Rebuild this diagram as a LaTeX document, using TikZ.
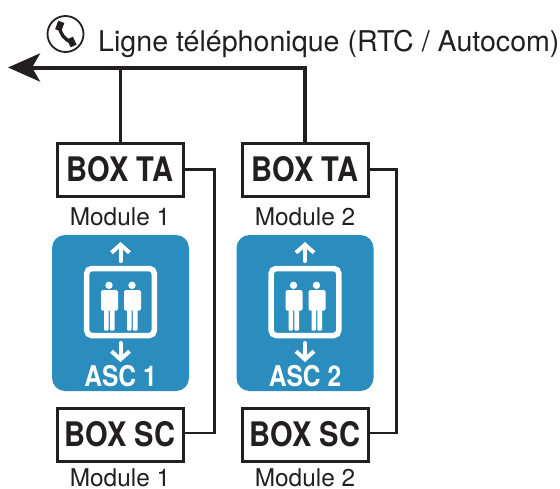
\documentclass[tikz,border=0pt]{standalone}
\usepackage{fontspec}
\setmainfont{TeX Gyre Heros}
\newfontfamily\boxfont[FakeStretch=0.86]{TeX Gyre Heros Bold}
\usetikzlibrary{arrows.meta}
\definecolor{ascblue}{HTML}{2B8CBE}
\definecolor{ink}{HTML}{231F20}
\tikzset{
  x=1pt,y=-1pt,
  boxnode/.style={draw=ink,line width=3pt,fill=white,minimum width=126pt,minimum height=53pt,inner sep=0pt,font=\boxfont\fontsize{33.8}{34}\selectfont,text=ink},
  modlabel/.style={font=\fontsize{24.4}{25}\selectfont,text=ink,inner sep=0pt},
  ascpanel/.style={fill=ascblue,rounded corners=13pt,minimum width=137pt,minimum height=156pt,inner sep=0pt},
  asclabel/.style={font=\boxfont\fontsize{28.6}{29}\selectfont,text=white,inner sep=0pt},
  trunk/.style={draw=ink,line width=3.4pt},
  bus/.style={draw=ink,line width=4pt},
  link/.style={draw=ink,line width=2.2pt},
  wh/.style={draw=white,line width=4pt},
  warrow/.style={draw=white,line width=4pt,line cap=round,-{Straight Barb[length=8pt,width=18pt,line width=4pt]}},
}
\newcommand{\liftpeople}[1]{%
  \begin{scope}[shift={(#1,0)}]
    \fill[white] (-11.5,285.3) circle (3.7);
    \fill[white,rounded corners=1.5pt] (-19.5,290) rectangle (-2.5,310.5);
    \fill[white,rounded corners=1pt] (-16.5,305) rectangle (-11.8,330.5);
    \fill[white,rounded corners=1pt] (-10.6,305) rectangle (-5.8,330.5);
    \fill[white] (11.5,285.3) circle (3.7);
    \fill[white,rounded corners=1.5pt] (3.5,290) rectangle (20.5,310.5);
    \fill[white,rounded corners=1pt] (6.5,305) rectangle (11.2,330.5);
    \fill[white,rounded corners=1pt] (12.4,305) rectangle (17.2,330.5);
    \draw[wh,line width=5.5pt,rounded corners=5pt] (-33.8,268.5) rectangle (33.8,335.5);
    \coordinate (upa) at (0,261);
    \coordinate (upb) at (0,242);
    \coordinate (dna) at (0,343);
    \coordinate (dnb) at (0,362);
    \draw[warrow] (upa) -- (upb);
    \draw[warrow] (dna) -- (dnb);
  \end{scope}}
\begin{document}
\begin{tikzpicture}
\useasboundingbox (0,0) rectangle (560,488);
% phone
\node[circle,draw=ink,line width=1.8pt,minimum size=36pt,inner sep=0pt] (phone) at (65.5,34) {};
\begin{scope}[shift={(phone.center)}]
  \draw[ink,line width=3.4pt] (-6,-8) .. controls (-5.5,0) and (-1,6) .. (7,8.5);
  \fill[ink,rotate around={-20:(-6,-8)}] (-9,-12.5) rectangle (-2.5,-3.5);
  \fill[ink,rotate around={-65:(6,8)}] (1.8,4.5) rectangle (10.5,11);
\end{scope}
\node[anchor=base west,inner sep=0pt,font=\fontsize{28.6}{29}\selectfont,text=ink] (title) at (98,51) {Ligne téléphonique (RTC / Autocom)};
% boxes
\node[boxnode] (ta1) at (120,169.5) {BOX TA};
\node[boxnode] (ta2) at (305,169.5) {BOX TA};
\node[boxnode] (sc1) at (120,434.5) {BOX SC};
\node[boxnode] (sc2) at (305,434.5) {BOX SC};
\node[modlabel] (m1) at (120,216.5) {Module 1};
\node[modlabel] (m2) at (305,216.5) {Module 2};
\node[modlabel] (m3) at (120,477.5) {Module 1};
\node[modlabel] (m4) at (305,477.5) {Module 2};
% panels
\node[ascpanel] (p1) at (120.5,313) {};
\node[ascpanel] (p2) at (305,313) {};
\liftpeople{120.5}
\liftpeople{305}
\node[asclabel] (a1) at (120.5,376) {ASC 1};
\node[asclabel] (a2) at (305,376) {ASC 2};
% connectors
\coordinate (j1) at (120.5,67.5);
\coordinate (j2) at (305,67.5);
\coordinate (tip) at (8,67.5);
\draw[trunk] (ta2.north) -- (j2);
\draw[trunk] (ta1.north -| j1) -- (j1);
\draw[bus,-{Stealth[length=32pt,width=28pt,inset=8pt]}] ([xshift=2pt]j2) -- (tip);
\coordinate (b1) at (214.5,300);
\coordinate (b2) at (396.5,300);
\draw[link] (ta1.east) -| (b1) |- ([yshift=1.5pt]sc1.east);
\draw[link] (ta2.east) -| (b2) |- ([yshift=1.5pt]sc2.east);
\end{tikzpicture}
\end{document}
